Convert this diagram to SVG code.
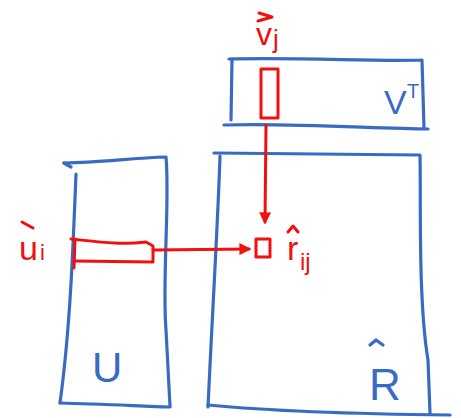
<svg xmlns="http://www.w3.org/2000/svg" width="461" height="418" viewBox="0 0 461 418">
<style>
.b{fill:none;stroke:#3a6bc4;stroke-width:3.2;stroke-linecap:round;stroke-linejoin:round}
.r{fill:none;stroke:#f01010;stroke-width:3;stroke-linecap:round;stroke-linejoin:round}
.tb{font-family:"Liberation Sans",sans-serif;fill:#3a6bc4}
.tr{font-family:"Liberation Sans",sans-serif;fill:#f01010}
</style>
<defs>
<marker id="ah" viewBox="0 0 10 10" refX="8" refY="5" markerWidth="4" markerHeight="4" orient="auto">
<path d="M0,0 L10,5 L0,10 z" fill="#f01010"/>
</marker>
</defs>
<rect width="461" height="418" fill="#fff"/>
<g id="VT">
<path class="b" d="M229,59 C300,57 380,62 422,60 L424,128"/>
<path class="b" d="M232,59 L231,120"/>
<path class="b" d="M224,125 C300,123 380,129 428,129"/>
<text class="tb" x="384" y="114" font-size="34">V</text>
<text class="tb" x="407" y="98" font-size="20">T</text>
</g>
<g id="vj">
<rect class="r" x="261" y="69" width="17" height="49"/>
<text class="tr" x="256" y="45" font-size="32">v</text>
<text class="tr" x="273" y="48" font-size="26">j</text>
<path class="r" d="M259,13 L272,17 L258,21" stroke-width="2.5"/>
</g>
<g id="R">
<path class="b" d="M214,153 L420,155 C421,200 418,300 428,360 L430,413"/>
<path class="b" d="M220,156 C218,220 212,320 208,407"/>
<path class="b" d="M208,405 C260,410 350,414 450,415"/>
<text class="tb" x="369" y="400" font-size="44">R</text>
<path class="b" d="M370,345 L376,340 L383,345" stroke-width="2.5"/>
</g>
<g id="U">
<path class="b" d="M64,163 C100,163 130,158 166,157 C170,200 162,280 166,330 L170,406"/>
<path class="b" d="M64,163 L71,167"/>
<path class="b" d="M76,174 C73,250 70,330 60,403"/>
<path class="b" d="M60,403 C100,404 140,406 170,407"/>
<text class="tb" x="92" y="382" font-size="42">U</text>
</g>
<g id="ui">
<path class="r" d="M71,239 C100,242 120,245 146,242 L153,246 L153,262 L75,261"/>
<path class="r" d="M75,239 L74,268"/>
<text class="tr" x="19" y="260" font-size="34">u</text>
<text class="tr" x="40" y="260" font-size="22">i</text>
<path class="r" d="M22,222 L33,228" stroke-width="2.5"/>
</g>
<g id="rij">
<rect class="r" x="256" y="239" width="14" height="18"/>
<text class="tr" x="287" y="260" font-size="34">r</text>
<text class="tr" x="300" y="270" font-size="24">ij</text>
<path class="r" d="M288,232 L293,226 L298,232" stroke-width="2.5"/>
</g>
<g id="connectors">
<path class="r" d="M266,125 L265,222" marker-end="url(#ah)"/>
<path class="r" d="M153,250 L249,249" marker-end="url(#ah)"/>
</g>
</svg>
